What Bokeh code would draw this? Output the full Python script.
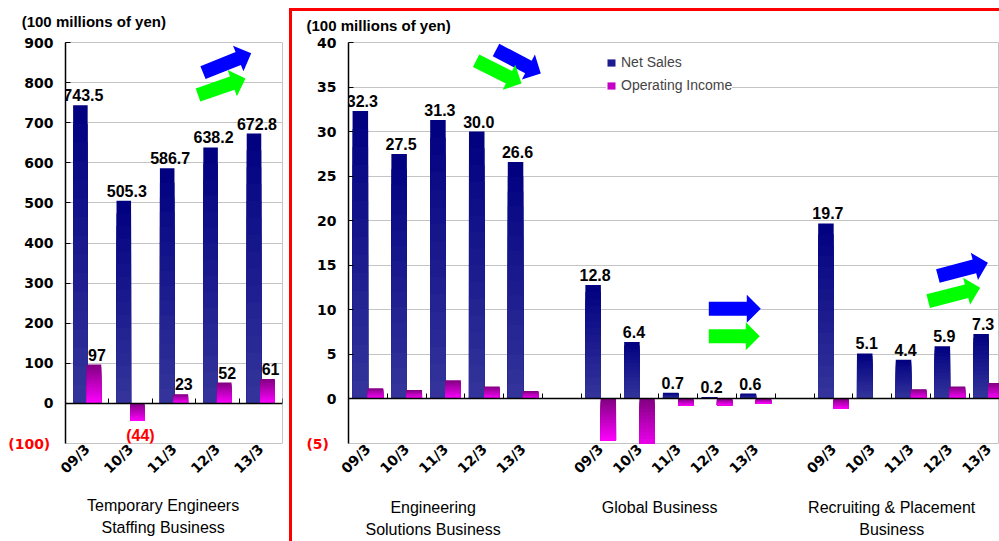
import math
from bokeh.plotting import figure
from bokeh.models import (ColumnDataSource, FixedTicker, LinearAxis, Range1d,
                          Legend, LegendItem)
from bokeh.layouts import row
from bokeh.embed import file_html
from bokeh.resources import INLINE
from bokeh.core.properties import value

# ---------------- data ----------------
periods = ["09/3", "10/3", "11/3", "12/3", "13/3"]

staff_sales = [743.5, 505.3, 586.7, 638.2, 672.8]
staff_income = [97, -44, 23, 52, 61]
staff_income_text = ["97", "(44)", "23", "52", "61"]
staff_title = "Temporary Engineers\nStaffing Business"

segment_titles = ["Engineering\nSolutions Business", "Global Business",
                  "Recruiting & Placement\nBusiness"]
eng_sales = [32.3, 27.5, 31.3, 30.0, 26.6]
eng_income = [1.2, 1.0, 2.1, 1.4, 0.9]
glb_sales = [12.8, 6.4, 0.7, 0.2, 0.6]
glb_income = [-4.7, -6.0, -0.8, -0.7, -0.5]
rec_sales = [19.7, 5.1, 4.4, 5.9, 7.3]
rec_income = [-1.1, 0.1, 1.1, 1.4, 1.8]

left_ticks = [0, 100, 200, 300, 400, 500, 600, 700, 800, 900]
right_ticks = [0, 5, 10, 15, 20, 25, 30, 35, 40]
left_neg_label = "(100)"
right_neg_label = "(5)"
unit_label = "(100 millions of  yen)"
legend_labels = ["Net Sales", "Operating Income"]

# ---------------- style ----------------
NAVY_TOP, NAVY_BOT = "#000080", "#35359c"
PURP_TOP, PURP_BOT = "#800080", "#ff00ff"
GRID = "#c4c4c4"
RED = "#ff0000"
BLUE_ARROW, GREEN_ARROW = "#0000ff", "#00ff00"
NUM_FONT = "Liberation Sans"
AXIS_FONT = "DejaVu Sans"
H = 541
TOP = 42


def mix(c1, c2, t):
    a = [int(c1[i:i + 2], 16) for i in (1, 3, 5)]
    b = [int(c2[i:i + 2], 16) for i in (1, 3, 5)]
    return "#%02x%02x%02x" % tuple(round(a[k] + (b[k] - a[k]) * t) for k in range(3))


def gradient_source(xs, vals, c_top, c_bot, n=16):
    d = dict(x=[], top=[], bottom=[], color=[])
    for x, v in zip(xs, vals):
        hi, lo = max(v, 0), min(v, 0)
        for j in range(n):
            d["x"].append(x)
            d["top"].append(hi - (hi - lo) * j / n)
            d["bottom"].append(lo)
            d["color"].append(mix(c_top, c_bot, (j + 0.5) / n))
    return ColumnDataSource(d)


def block_arrow(tail, tip, sx, sy, shaft=14, head_w=28, head_l=14):
    tx, ty = tail[0] * sx, tail[1] * sy
    px, py = tip[0] * sx, tip[1] * sy
    L = math.hypot(px - tx, py - ty)
    ux, uy = (px - tx) / L, (py - ty) / L
    nx, ny = -uy, ux
    bx, by = px - ux * head_l, py - uy * head_l
    pts = [(tx + nx * shaft / 2, ty + ny * shaft / 2),
           (bx + nx * shaft / 2, by + ny * shaft / 2),
           (bx + nx * head_w / 2, by + ny * head_w / 2),
           (px, py),
           (bx - nx * head_w / 2, by - ny * head_w / 2),
           (bx - nx * shaft / 2, by - ny * shaft / 2),
           (tx - nx * shaft / 2, ty - ny * shaft / 2)]
    return [p[0] / sx for p in pts], [p[1] / sy for p in pts]


def text_axis(p, side, ticks, texts, standoff, size="15px", style="normal",
              line_height=1.2):
    ax = LinearAxis(ticker=FixedTicker(ticks=ticks),
                    major_label_overrides=dict(zip(ticks, texts)),
                    axis_line_color=None, major_tick_line_color=None,
                    minor_tick_line_color=None, major_tick_out=0, major_tick_in=0,
                    major_label_standoff=standoff,
                    major_label_text_color="black", major_label_text_font=NUM_FONT,
                    major_label_text_font_size=size,
                    major_label_text_font_style=style,
                    major_label_text_line_height=line_height)
    p.add_layout(ax, side)
    return ax


def style_common(p, yticks, grid_ticks, labels, neg_label, neg_standoff):
    p.outline_line_color = GRID
    p.xgrid.grid_line_color = None
    p.ygrid.ticker = FixedTicker(ticks=grid_ticks)
    p.ygrid.grid_line_color = GRID
    p.ygrid.grid_line_width = 1
    ya = p.left[0]
    ya.ticker = FixedTicker(ticks=yticks)
    ya.axis_line_color = "black"
    ya.axis_line_width = 1.5
    ya.major_tick_in = 5
    ya.major_tick_out = 0
    ya.major_tick_line_color = "black"
    ya.minor_tick_line_color = None
    ya.major_label_standoff = 12
    ya.major_label_text_font = AXIS_FONT
    ya.major_label_text_font_style = "bold"
    ya.major_label_text_font_size = "14px"
    ya.major_label_text_color = "black"
    # red label for the negative end of the scale
    ya.axis_label = neg_label
    ya.axis_label_orientation = "horizontal"
    ya.axis_label_text_color = RED
    ya.axis_label_text_font = AXIS_FONT
    ya.axis_label_text_font_style = "bold"
    ya.axis_label_text_font_size = "14px"
    ya.axis_label_standoff = neg_standoff
    try:
        ya.axis_label_align = "start"
    except AttributeError:
        pass
    xa = p.below[0]
    xa.ticker = FixedTicker(ticks=list(labels.keys()))
    xa.major_label_overrides = labels
    xa.major_label_orientation = math.pi / 4
    xa.axis_line_color = None
    xa.major_tick_line_color = None
    xa.minor_tick_line_color = None
    xa.major_tick_out = 0
    xa.major_label_standoff = 3
    xa.major_label_text_font = AXIS_FONT
    xa.major_label_text_font_style = "bold"
    xa.major_label_text_font_size = "14px"
    xa.major_label_text_color = "black"


def zero_axis(p, boundaries):
    zero = LinearAxis(fixed_location=0, ticker=FixedTicker(ticks=boundaries),
                      major_label_overrides={b: "" for b in boundaries},
                      axis_line_color="black", axis_line_width=1.5,
                      major_tick_in=0, major_tick_out=5,
                      major_tick_line_color="black", minor_tick_line_color=None,
                      major_label_text_font_size="1px")
    p.add_layout(zero, "above")


def bars(p, xs, sales, income, wn, dodge):
    s1 = gradient_source([x - dodge for x in xs], sales, NAVY_TOP, NAVY_BOT)
    s2 = gradient_source([x + dodge for x in xs], income, PURP_TOP, PURP_BOT)
    r1 = p.vbar(x="x", top="top", bottom="bottom", width=wn, fill_color="color",
                line_color=None, source=s1)
    r2 = p.vbar(x="x", top="top", bottom="bottom", width=wn, fill_color="color",
                line_color=None, source=s2)
    return r1, r2


def num_labels(p, xs, vals, texts, color, baseline, yoff, size="16px", xoff=0):
    p.text(x=xs, y=vals, text=texts, text_align="center", text_baseline=baseline,
           y_offset=yoff, x_offset=xoff, text_color=color,
           text_font=value(NUM_FONT), text_font_style="bold", text_font_size=size)


# ================= left figure =================
LW, L_ML, L_MR, L_MB = 289, 65, 7, 94
left = figure(width=LW, height=H, output_backend="svg", toolbar_location=None,
              x_range=Range1d(-0.5, 4.5), y_range=Range1d(-100, 900),
              min_border_left=L_ML, min_border_right=L_MR, min_border_top=TOP,
              min_border_bottom=L_MB, background_fill_color="white",
              border_fill_color="white")
lx = list(range(len(periods)))
style_common(left, left_ticks, [-100] + left_ticks,
             {i: periods[i] for i in lx}, left_neg_label, -29)
text_axis(left, "above", [0.2], [unit_label], 13, style="bold")
text_axis(left, "below", [1.75], [staff_title], 11, size="16px", line_height=1.3)
zero_axis(left, [i + 0.5 for i in lx])

bars(left, lx, staff_sales, staff_income, 0.335, 0.157)
num_labels(left, [x - 0.157 for x in lx], staff_sales,
           ["%.1f" % v for v in staff_sales], "black", "bottom", -4, xoff=3)
pos = [i for i in lx if staff_income[i] >= 0]
neg = [i for i in lx if staff_income[i] < 0]
num_labels(left, [lx[i] + 0.157 for i in pos], [staff_income[i] for i in pos],
           [staff_income_text[i] for i in pos], "black", "bottom", -4, xoff=3)
num_labels(left, [lx[i] + 0.157 for i in neg], [staff_income[i] for i in neg],
           [staff_income_text[i] for i in neg], RED, "top", 6, xoff=3)

l_sx = (LW - L_ML - L_MR) / 5.0
l_sy = (H - TOP - L_MB) / 1000.0
for tail, tip, col in [((2.668, 825), (3.779, 873), BLUE_ARROW),
                       ((2.553, 769), (3.647, 810), GREEN_ARROW)]:
    ax_, ay_ = block_arrow(tail, tip, l_sx, l_sy)
    left.patch(ax_, ay_, fill_color=col, line_color=None)

# ================= right figure =================
RW, R_ML, R_MB = 710, 59, 98
R_UNIT = 38.8
r_end = -0.5 + (RW - R_ML) / R_UNIT
right = figure(width=RW, height=H, output_backend="svg", toolbar_location=None,
               x_range=Range1d(-0.5, r_end), y_range=Range1d(-5, 40),
               min_border_left=R_ML, min_border_right=0, min_border_top=TOP,
               min_border_bottom=R_MB, background_fill_color="white",
               border_fill_color=None)
right.styles = {
    "background-image": "linear-gradient(#ff0000, #ff0000), linear-gradient(#ff0000, #ff0000)",
    "background-position": "0px 8px, 0px 8px",
    "background-size": "3px 100%, 100% 3px",
    "background-repeat": "no-repeat",
}

rlabels = {}
for g in range(3):
    for j in range(len(periods)):
        rlabels[g * 6 + j] = periods[j]
style_common(right, right_ticks, [-5] + right_ticks, rlabels, right_neg_label, -15)
text_axis(right, "above", [0.33], [unit_label], 9, style="bold")
text_axis(right, "below", [1.68, 7.52, 13.5], segment_titles, 13,
          size="16px", line_height=1.35)
zero_axis(right, [k + 0.5 for k in range(17)])

seg_sales = [eng_sales, glb_sales, rec_sales]
seg_income = [eng_income, glb_income, rec_income]
legend_src = []
for g in range(3):
    xs = [g * 6 + j for j in range(len(periods))]
    r1, r2 = bars(right, xs, seg_sales[g], seg_income[g], 0.4, 0.195)
    legend_src.append((r1, r2))
    num_labels(right, [x - 0.195 for x in xs], seg_sales[g],
               ["%.1f" % v for v in seg_sales[g]], "black", "bottom", -4, xoff=2)

r_sx = R_UNIT
r_sy = (H - TOP - R_MB) / 45.0
arrows = [((3.302, 39.16), (4.456, 36.52), BLUE_ARROW),
          ((2.789, 37.94), (3.959, 35.39), GREEN_ARROW),
          ((8.786, 10.13), (10.126, 10.13), BLUE_ARROW),
          ((8.786, 7.04), (10.10, 7.04), GREEN_ARROW),
          ((14.69, 13.79), (15.98, 15.28), BLUE_ARROW),
          ((14.44, 10.98), (15.78, 12.47), GREEN_ARROW)]
for tail, tip, col in arrows:
    ax_, ay_ = block_arrow(tail, tip, r_sx, r_sy)
    right.patch(ax_, ay_, fill_color=col, line_color=None)

legend = Legend(items=[LegendItem(label=legend_labels[0], renderers=[legend_src[0][0]], index=8),
                       LegendItem(label=legend_labels[1], renderers=[legend_src[0][1]], index=8)],
                location=(258, 350), orientation="vertical",
                glyph_width=10, glyph_height=9, label_height=16, spacing=7,
                padding=5, label_standoff=5, margin=0,
                label_text_font=NUM_FONT, label_text_font_size="14px",
                background_fill_color="white", background_fill_alpha=1.0,
                border_line_color=None)
right.add_layout(legend)

layout = row(left, right, spacing=0)
open("out.html", "w").write(file_html(layout, INLINE))
